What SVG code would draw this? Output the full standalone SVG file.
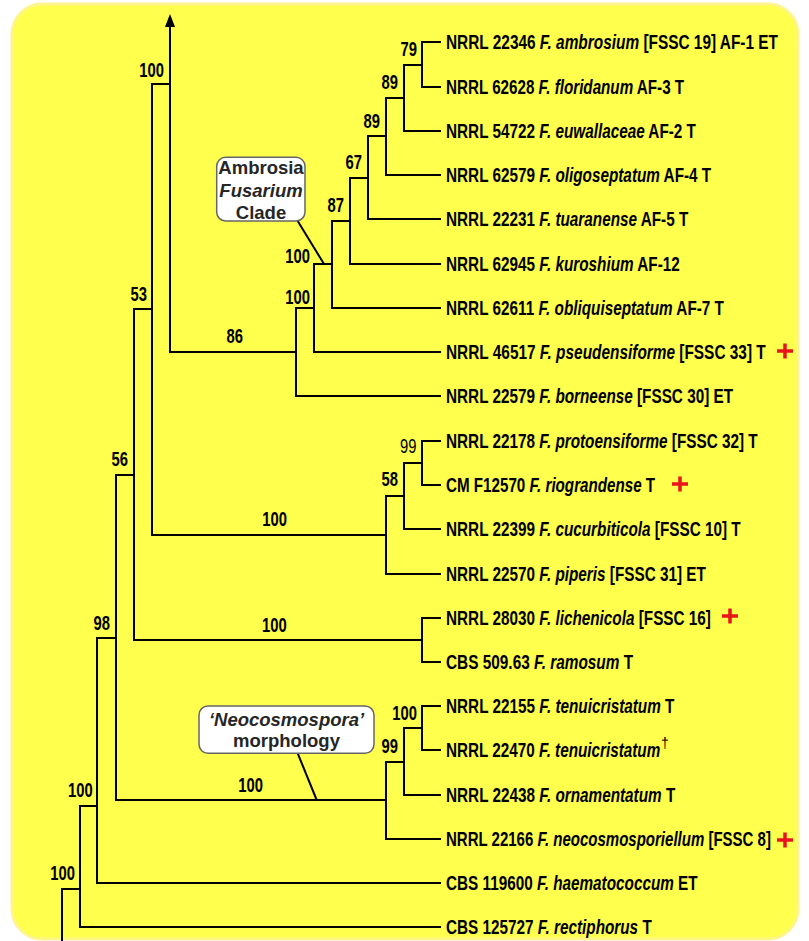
<svg xmlns="http://www.w3.org/2000/svg" width="809" height="941" viewBox="0 0 809 941">
<defs>
<style>
.bg{fill:#ffff4d;stroke:#fff58c;stroke-width:3}
.br{fill:none;stroke:#000;stroke-width:2;stroke-linecap:square}
.tip{font-family:"Liberation Sans",Arial,sans-serif;font-weight:bold;font-size:19.5px;fill:#000}
.tip .i{font-style:italic}
.bs{font-family:"Liberation Sans",Arial,sans-serif;font-weight:bold;font-size:19.5px;fill:#000;text-anchor:end}
.bsr{font-family:"Liberation Sans",Arial,sans-serif;font-weight:normal;font-size:19.5px;fill:#000;text-anchor:end}
.box{fill:#fff;stroke:#666;stroke-width:1.5}
.ct{font-family:"Liberation Sans",Arial,sans-serif;font-weight:bold;font-size:18.5px;fill:#262626;text-anchor:middle}
.cross{fill:none;stroke:#e8141c;stroke-width:3.5}
.lead{fill:none;stroke:#000;stroke-width:2}
</style>
</defs>
<rect class="bg" x="12" y="4" width="786" height="935" rx="30"/>

<g id="connectors">
<path class="br" d="M422,42V87M404,65H422M422,42H440M422,87H440
M404,65V131M386,98H404M404,131H440
M386,98V175M368,136H386M386,175H440
M368,136V219M350,178H368M368,219H440
M350,178V264M332,221H350M350,264H440
M332,221V308M314,264H332M332,308H440
M314,264V352M296,308H314M314,352H440
M296,308V396M170,352H296M296,396H440
M170,352V26M152,84H170
M152,84V535M134,309H152M152,535H386
M386,496V574M386,496H404M386,574H440
M404,463V529M404,463H422M404,529H440
M422,441V485M422,441H440M422,485H440
M134,309V640M116,475H134M134,640H422
M422,618V662M422,618H440M422,662H440
M116,475V800M97,638H116M116,800H386
M386,762V839M386,762H404M386,839H440
M404,728V795M404,728H422M404,795H440
M422,706V750M422,706H440M422,750H440
M97,638V883M97,883H440M80,806H97
M80,806V927M80,927H440M62,889H80
M62,889V941"/>
<path d="M170,14L165,27L175,27Z" fill="#000"/>
<path class="lead" d="M297.7,221L324,264"/>
<path class="lead" d="M297.7,753.3L316.7,800"/>
</g>

<g id="support-values">
<text class="bs" transform="translate(164,76.5) scale(0.76,1)">100</text>
<text class="bs" transform="translate(417,56) scale(0.76,1)">79</text>
<text class="bs" transform="translate(398,89) scale(0.76,1)">89</text>
<text class="bs" transform="translate(380,128) scale(0.76,1)">89</text>
<text class="bs" transform="translate(362,169) scale(0.76,1)">67</text>
<text class="bs" transform="translate(344,212) scale(0.76,1)">87</text>
<text class="bs" transform="translate(310,263) scale(0.76,1)">100</text>
<text class="bs" transform="translate(310,304) scale(0.76,1)">100</text>
<text class="bs" transform="translate(147,301) scale(0.76,1)">53</text>
<text class="bs" transform="translate(243,343) scale(0.76,1)">86</text>
<text class="bs" transform="translate(128,466) scale(0.76,1)">56</text>
<text class="bsr" transform="translate(416.5,453) scale(0.76,1)">99</text>
<text class="bs" transform="translate(398,486) scale(0.76,1)">58</text>
<text class="bs" transform="translate(287,526) scale(0.76,1)">100</text>
<text class="bs" transform="translate(110,630) scale(0.76,1)">98</text>
<text class="bs" transform="translate(286.7,632) scale(0.76,1)">100</text>
<text class="bs" transform="translate(417,720) scale(0.76,1)">100</text>
<text class="bs" transform="translate(398,753) scale(0.76,1)">99</text>
<text class="bs" transform="translate(263,792) scale(0.76,1)">100</text>
<text class="bs" transform="translate(92.7,797) scale(0.76,1)">100</text>
<text class="bs" transform="translate(75,880) scale(0.76,1)">100</text>
</g>

<g id="clade-ambrosia">
<rect class="box" x="216.7" y="157.3" width="88.3" height="63.7" rx="9"/>
<text class="ct" x="261" y="174">Ambrosia</text>
<text class="ct" x="261" y="196.5" font-style="italic">Fusarium</text>
<text class="ct" x="261" y="218.5">Clade</text>
</g>

<g id="clade-neocosmospora">
<rect class="box" x="199" y="706" width="175" height="47.3" rx="9"/>
<text class="ct" x="286.5" y="726" font-style="italic">‘Neocosmospora’</text>
<text class="ct" x="286.5" y="747">morphology</text>
</g>

<g id="tip-1"><text class="tip" transform="translate(446,49) scale(0.79,1)">NRRL 22346 <tspan class="i">F. ambrosium</tspan> [FSSC 19] AF-1 ET</text></g>
<g id="tip-2"><text class="tip" transform="translate(446,94) scale(0.78,1)">NRRL 62628 <tspan class="i">F. floridanum</tspan> AF-3 T</text></g>
<g id="tip-3"><text class="tip" transform="translate(446,138) scale(0.785,1)">NRRL 54722 <tspan class="i">F. euwallaceae</tspan> AF-2 T</text></g>
<g id="tip-4"><text class="tip" transform="translate(446,182) scale(0.785,1)">NRRL 62579 <tspan class="i">F. oligoseptatum</tspan> AF-4 T</text></g>
<g id="tip-5"><text class="tip" transform="translate(446,226) scale(0.785,1)">NRRL 22231 <tspan class="i">F. tuaranense</tspan> AF-5 T</text></g>
<g id="tip-6"><text class="tip" transform="translate(446,271) scale(0.785,1)">NRRL 62945 <tspan class="i">F. kuroshium</tspan> AF-12</text></g>
<g id="tip-7"><text class="tip" transform="translate(446,315) scale(0.785,1)">NRRL 62611 <tspan class="i">F. obliquiseptatum</tspan> AF-7 T</text></g>
<g id="tip-8"><text class="tip" transform="translate(446,359) scale(0.79,1)">NRRL 46517 <tspan class="i">F. pseudensiforme</tspan> [FSSC 33] T</text>
<path class="cross" d="M777,351H793M785,343.5V358.5"/></g>
<g id="tip-9"><text class="tip" transform="translate(446,403) scale(0.785,1)">NRRL 22579 <tspan class="i">F. borneense</tspan> [FSSC 30] ET</text></g>
<g id="tip-10"><text class="tip" transform="translate(446,448) scale(0.785,1)">NRRL 22178 <tspan class="i">F. protoensiforme</tspan> [FSSC 32] T</text></g>
<g id="tip-11"><text class="tip" transform="translate(446,492) scale(0.778,1)">CM F12570 <tspan class="i">F. riograndense</tspan> T</text>
<path class="cross" d="M672,484H688M680,476.5V491.5"/></g>
<g id="tip-12"><text class="tip" transform="translate(446,536) scale(0.785,1)">NRRL 22399 <tspan class="i">F. cucurbiticola</tspan> [FSSC 10] T</text></g>
<g id="tip-13"><text class="tip" transform="translate(446,581) scale(0.785,1)">NRRL 22570 <tspan class="i">F. piperis</tspan> [FSSC 31] ET</text></g>
<g id="tip-14"><text class="tip" transform="translate(446,625) scale(0.785,1)">NRRL 28030 <tspan class="i">F. lichenicola</tspan> [FSSC 16]</text>
<path class="cross" d="M722,616H738M730,608.5V623.5"/></g>
<g id="tip-15"><text class="tip" transform="translate(446,669) scale(0.789,1)">CBS 509.63 <tspan class="i">F. ramosum</tspan> T</text></g>
<g id="tip-16"><text class="tip" transform="translate(446,713) scale(0.785,1)">NRRL 22155 <tspan class="i">F. tenuicristatum</tspan> T</text></g>
<g id="tip-17"><text class="tip" transform="translate(446,757) scale(0.783,1)">NRRL 22470 <tspan class="i">F. tenuicristatum</tspan></text>
<text x="661" y="748" font-family="Liberation Sans,Arial,sans-serif" font-size="14" fill="#000">†</text></g>
<g id="tip-18"><text class="tip" transform="translate(446,802) scale(0.785,1)">NRRL 22438 <tspan class="i">F. ornamentatum</tspan> T</text></g>
<g id="tip-19"><text class="tip" transform="translate(446,846) scale(0.77,1)">NRRL 22166 <tspan class="i">F. neocosmosporiellum</tspan> [FSSC 8]</text>
<path class="cross" d="M777,840H793M785,832.5V847.5"/></g>
<g id="tip-20"><text class="tip" transform="translate(446,890) scale(0.785,1)">CBS 119600 <tspan class="i">F. haematococcum</tspan> ET</text></g>
<g id="tip-21"><text class="tip" transform="translate(446,934) scale(0.785,1)">CBS 125727 <tspan class="i">F. rectiphorus</tspan> T</text></g>
</svg>
